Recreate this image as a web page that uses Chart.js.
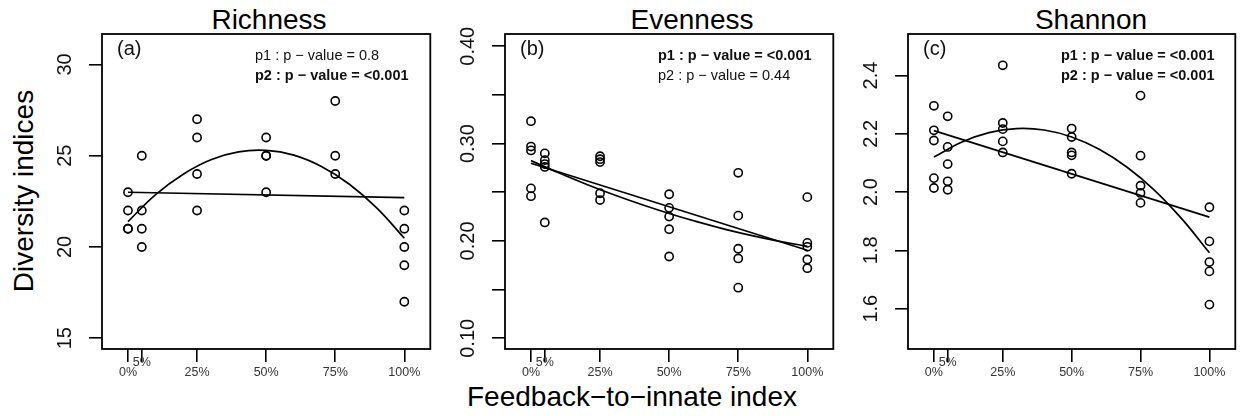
<!DOCTYPE html>
<html>
<head>
<meta charset="utf-8">
<script src="https://cdn.jsdelivr.net/npm/chart.js@4.4.1/dist/chart.umd.min.js"></script>
<style>
  body { margin: 0; background: #fff; }
  #wrap { position: relative; width: 1241px; height: 416px; overflow: hidden;
          font-family: "Liberation Sans", Arial, sans-serif; color: #000; }
  canvas { position: absolute; top: 0; }
  .lbl { position: absolute; font-size: 28px; line-height: 28px; white-space: nowrap; }
</style>
</head>
<body>
<div id="wrap">
  <div class="lbl" style="left:269px; top:6px; transform:translateX(-50%)">Richness</div>
  <div class="lbl" style="left:692px; top:6px; transform:translateX(-50%)">Evenness</div>
  <div class="lbl" style="left:1091px; top:6px; transform:translateX(-50%)">Shannon</div>
  <div class="lbl" style="left:23.5px; top:190.5px; transform:translate(-50%,-50%) rotate(-90deg)">Diversity indices</div>
  <div class="lbl" style="left:632px; top:383px; transform:translateX(-50%)">Feedback−to−innate index</div>
  <canvas id="rich" width="400" height="400" style="left:40px"></canvas>
  <canvas id="even" width="400" height="400" style="left:443px"></canvas>
  <canvas id="shan" width="395" height="400" style="left:846px"></canvas>
</div>
<script>
// feedback-to-innate levels and their axis labels
const xPos = [0, 5, 25, 50, 75, 100];
const xTickLabels = ['0%', '5%', '25%', '50%', '75%', '100%'];
const raisedTick = 5;
const xMin = -9.4, xMax = 109.4;

// observed values, one row per level
const richness = [
  [23, 22, 21, 21],
  [25, 22, 21, 20],
  [27, 26, 24, 22],
  [26, 25, 25, 23],
  [28, 25, 24],
  [22, 21, 20, 19, 17]
];
const evenness = [
  [0.323, 0.297, 0.293, 0.254, 0.246],
  [0.290, 0.283, 0.279, 0.276, 0.219],
  [0.287, 0.284, 0.281, 0.249, 0.242],
  [0.248, 0.234, 0.225, 0.212, 0.184],
  [0.270, 0.226, 0.192, 0.182, 0.152],
  [0.245, 0.198, 0.194, 0.181, 0.172]
];
const shannon = [
  [2.296, 2.212, 2.177, 2.048, 2.014],
  [2.260, 2.155, 2.096, 2.037, 2.008],
  [2.435, 2.237, 2.216, 2.174, 2.136],
  [2.218, 2.189, 2.136, 2.126, 2.063],
  [2.331, 2.125, 2.022, 1.997, 1.963],
  [1.948, 1.831, 1.760, 1.728, 1.614]
];

// p1: straight-line fit, p2: quadratic fit
const lineX = [0, 100];
const richnessP1 = [23.0, 22.7];
const evennessP1 = [0.2798, 0.1904];
const shannonP1 = [2.211, 1.914];
const curveX = [0, 10, 20, 30, 40, 50, 60, 70, 80, 90, 100];
const richnessP2 = [21.39, 22.87, 23.99, 24.78, 25.21, 25.29, 25.03, 24.41, 23.45, 22.14, 20.48];
const evennessP2 = [0.2825, 0.2700, 0.2583, 0.2474, 0.2374, 0.2282, 0.2198, 0.2122, 0.2055, 0.1996, 0.1945];
const shannonP2 = [2.120, 2.171, 2.204, 2.218, 2.213, 2.189, 2.147, 2.086, 2.007, 1.908, 1.792];

// y axis ticks
const richnessTicks = [15, 20, 25, 30];
const richnessTickText = ['15', '20', '25', '30'];
const evennessTicks = [0.10, 0.15, 0.20, 0.25, 0.30, 0.35, 0.40];
const evennessTickText = ['0.10', '', '0.20', '', '0.30', '', '0.40'];
const shannonTicks = [1.6, 1.8, 2.0, 2.2, 2.4];
const shannonTickText = ['1.6', '1.8', '2.0', '2.2', '2.4'];

const FONT = '"Liberation Sans", Arial, sans-serif';
Chart.defaults.font.family = FONT;
Chart.defaults.color = '#111';

// panel letter, p-value notes and the plot frame
const panelNotes = {
  id: 'panelNotes',
  afterDraw(chart, args, opts) {
    const { ctx, chartArea: a } = chart;
    ctx.save();
    ctx.fillStyle = '#111';
    ctx.textBaseline = 'middle';
    ctx.textAlign = 'left';
    ctx.font = '20px ' + FONT;
    ctx.fillText(opts.tag, a.left + 15, a.top + 15);
    opts.lines.forEach((txt, i) => {
      ctx.font = (opts.bold[i] ? 'bold ' : '') + '14.5px ' + FONT;
      ctx.fillText(txt, a.left + 153, a.top + 22 + i * 20);
    });
    ctx.strokeStyle = '#000';
    ctx.lineWidth = 1.8;
    ctx.strokeRect(a.left, a.top, a.right - a.left, a.bottom - a.top);
    ctx.restore();
  }
};

const axisGrid = { drawOnChartArea: false, drawTicks: true, tickLength: 13, color: '#000', lineWidth: 1.6 };

function makePanel(id, p) {
  const points = p.groups.flatMap((vals, i) => vals.map(v => ({ x: xPos[i], y: v })));
  new Chart(document.getElementById(id), {
    type: 'scatter',
    data: {
      datasets: [
        {
          data: points,
          pointStyle: 'circle',
          pointRadius: 4.1,
          pointBorderWidth: 1.6,
          pointBorderColor: '#000',
          pointBackgroundColor: 'rgba(0,0,0,0)'
        },
        {
          data: lineX.map((x, i) => ({ x, y: p.fit1[i] })),
          showLine: true, pointRadius: 0, borderColor: '#000', borderWidth: 1.7
        },
        {
          data: curveX.map((x, i) => ({ x, y: p.fit2[i] })),
          showLine: true, pointRadius: 0, borderColor: '#000', borderWidth: 1.7, tension: 0.4
        }
      ]
    },
    options: {
      responsive: false,
      animation: false,
      devicePixelRatio: 1,
      layout: { padding: { top: 34, right: p.rightPad, bottom: 0, left: 0 } },
      plugins: {
        legend: { display: false },
        tooltip: { enabled: false },
        panelNotes: { tag: p.tag, lines: p.notes, bold: p.bold }
      },
      scales: {
        x: {
          type: 'linear', position: 'bottom', min: xMin, max: xMax,
          afterBuildTicks: s => { s.ticks = xPos.map(v => ({ value: v })); },
          afterFit: s => { s.height = 51; s.paddingLeft = 0; s.paddingRight = 0; },
          ticks: {
            autoSkip: false, minRotation: 0, maxRotation: 0,
            crossAlign: 'center', padding: 1, color: '#333',
            font: { size: 12.5, lineHeight: 1.6 },
            callback: (v, i) => v === raisedTick ? [xTickLabels[i], ''] : xTickLabels[i]
          },
          grid: axisGrid,
          border: { display: false }
        },
        y: {
          type: 'linear', position: 'left', min: p.yMin, max: p.yMax,
          afterBuildTicks: s => { s.ticks = p.yTicks.map(v => ({ value: v })); },
          afterFit: s => { s.width = 62; s.paddingTop = 0; s.paddingBottom = 0; },
          ticks: {
            autoSkip: false, minRotation: 90, maxRotation: 90,
            crossAlign: 'center', padding: p.tickPad, color: '#111',
            font: { size: 20 },
            callback: (v, i) => p.yTickText[i]
          },
          grid: axisGrid,
          border: { display: false }
        }
      }
    },
    plugins: [panelNotes]
  });
}

makePanel('rich', {
  groups: richness, fit1: richnessP1, fit2: richnessP2,
  yTicks: richnessTicks, yTickText: richnessTickText,
  yMin: 14.41, yMax: 31.67, tickPad: 11.9, rightPad: 9.7,
  tag: '(a)',
  notes: ['p1 : p \u2212 value = 0.8', 'p2 : p \u2212 value = <0.001'],
  bold: [false, true]
});

makePanel('even', {
  groups: evenness, fit1: evennessP1, fit2: evennessP2,
  yTicks: evennessTicks, yTickText: evennessTickText,
  yMin: 0.0890, yMax: 0.4126, tickPad: 4.2, rightPad: 9.7,
  tag: '(b)',
  notes: ['p1 : p \u2212 value = <0.001', 'p2 : p \u2212 value = 0.44'],
  bold: [true, false]
});

makePanel('shan', {
  groups: shannon, fit1: shannonP1, fit2: shannonP2,
  yTicks: shannonTicks, yTickText: shannonTickText,
  yMin: 1.4617, yMax: 2.5424, tickPad: 9.4, rightPad: 4.7,
  tag: '(c)',
  notes: ['p1 : p \u2212 value = <0.001', 'p2 : p \u2212 value = <0.001'],
  bold: [true, true]
});
</script>
</body>
</html>
